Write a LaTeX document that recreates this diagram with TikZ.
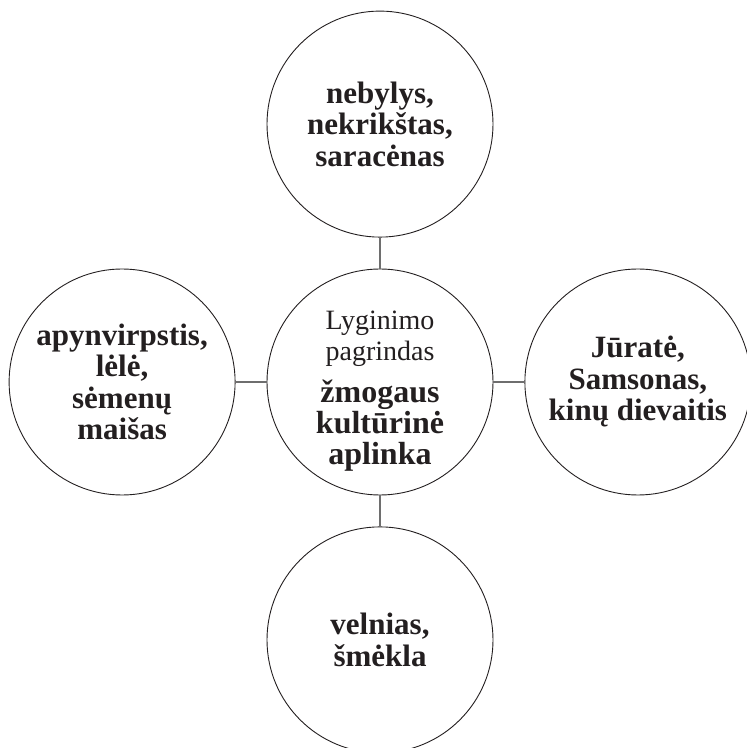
\documentclass[tikz,border=0pt]{standalone}
\usepackage{fontspec}
\setmainfont{Liberation Serif}
\usepackage{xcolor}
\usepackage{tikz}
\usetikzlibrary{positioning}
\definecolor{myink}{RGB}{35,31,32}
\definecolor{mygray}{RGB}{110,110,110}
\tikzset{
  circnode/.style={circle, draw=myink, line width=0.9pt, minimum size=226pt,
    inner sep=0pt, align=center, text=myink,
    font=\fontsize{31}{31.5}\selectfont\bfseries},
  hubnode/.style={circnode, font=\fontsize{28}{31}\selectfont},
  link/.style={line width=2pt, color=mygray}
}

\begin{document}
\begin{tikzpicture}[x=1pt, y=1pt, node distance=31pt and 31pt]
  \useasboundingbox (0,0) rectangle (747,748);
  \node[hubnode] (hub) at (380,366)
    {\rule{0pt}{36pt}Lyginimo\\pagrindas\\[11pt]{\fontsize{32}{31}\selectfont\bfseries žmogaus}\\
     {\fontsize{32}{31}\selectfont\bfseries kultūrinė}\\
     {\fontsize{32}{31}\selectfont\bfseries aplinka}};
  \node[circnode, above=of hub] (top) {nebylys,\\nekrikštas,\\saracėnas};
  \node[circnode, left=of hub] (lft) {apynvirpstis,\\lėlė,\\sėmenų\\maišas};
  \node[circnode, right=of hub] (rgt) {Jūratė,\\Samsonas,\\kinų dievaitis};
  \node[circnode, below=of hub] (bot) {velnias,\\šmėkla};
  \draw[link] (hub) -- (top);
  \draw[link] (hub) -- (lft);
  \draw[link] (hub) -- (rgt);
  \draw[link] (hub) -- (bot);
\end{tikzpicture}
\end{document}
